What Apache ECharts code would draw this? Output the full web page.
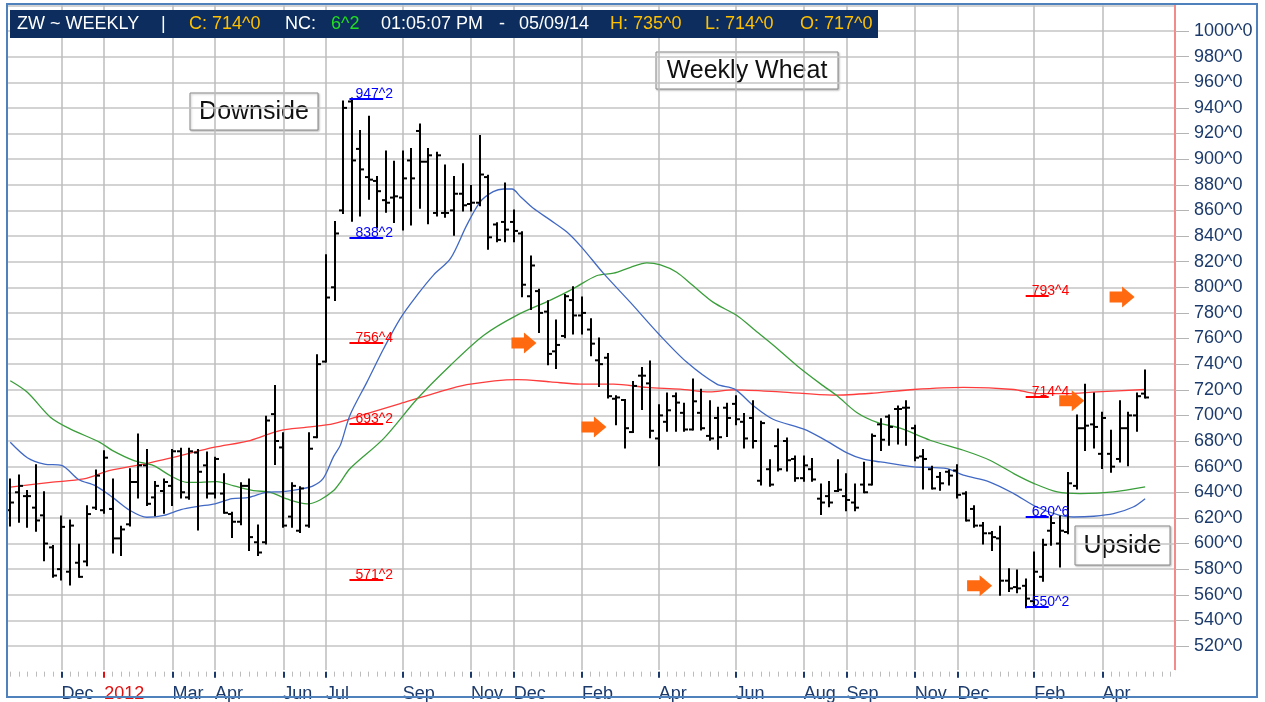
<!DOCTYPE html>
<html>
<head>
<meta charset="utf-8">
<title>ZW Weekly Wheat</title>
<script src="https://cdn.jsdelivr.net/npm/echarts@6/dist/echarts.min.js"></script>
<style>
  html, body { margin: 0; padding: 0; background: #fff; }
  #chart { width: 1265px; height: 702px; }
</style>
</head>
<body>
<div id="chart"></div>
<script>
// weekly bars (friday closes), first bar = week of 2011-10-21
const firstWeek = '2011-10-21'
const emptyWeeksAfter = 3

const opens = [626, 640, 637, 628, 622, 597, 580, 578, 585, 586, 628, 626, 627, 604, 615, 648, 661, 636, 641, 645,
  672, 636, 671, 661, 639, 639, 623, 617, 645, 601, 601, 701, 675, 621, 610, 614, 683, 742, 800, 860,
  945, 908, 886, 883, 868, 870, 870, 899, 922, 898, 858, 858, 860, 873, 865, 866, 886, 849, 851, 851,
  842, 793, 797, 781, 750, 762, 790, 778, 767, 743, 745, 713, 712, 687, 731, 725, 682, 695, 715, 702,
  689, 702, 684, 698, 706, 709, 695, 698, 649, 658, 676, 680, 666, 651, 658, 635, 637, 641, 637, 632,
  646, 646, 693, 699, 705, 706, 690, 668, 658, 652, 656, 657, 639, 627, 614, 608, 604, 571, 566, 567,
  555, 574, 610, 600, 609, 645, 690, 693, 670, 670, 666, 690, 700, 717]
const highs = [650, 653, 641, 661, 640, 598, 621, 618, 599, 629, 657, 672, 650, 613, 658, 685, 673, 648, 650, 673,
  674, 674, 673, 671, 667, 654, 624, 647, 650, 614, 699, 723, 686, 647, 644, 686, 747, 825, 851, 945,
  947.25, 922, 933, 886, 906, 898, 906, 908, 927, 908, 905, 895, 886, 896, 879, 918, 887, 850, 881, 860,
  843, 824, 798, 789, 774, 794, 800, 792, 775, 760, 748, 715, 712, 726, 737, 742, 708, 717, 717, 709,
  728, 720, 711, 706, 709, 715, 701, 711, 695, 665, 689, 682, 668, 668, 666, 646, 648, 665, 654, 646,
  663, 685, 697, 700, 707, 711, 692, 673, 660, 655, 657, 661, 640, 629, 616, 609, 613, 580, 579, 572,
  593, 603, 621, 621, 655, 700, 724, 717, 702, 688, 711, 702, 717, 735]
const lows = [614, 617, 613, 610, 587, 574, 572, 568, 574, 583, 627, 624, 593, 591, 614, 636, 630, 622, 624, 630,
  636, 635, 611, 636, 636, 624, 605, 615, 595, 591, 600, 662, 613, 613, 609, 613, 683, 742, 790, 858,
  852, 856, 869, 847, 859, 851, 845, 849, 862, 850, 856, 855, 841, 860, 860, 864, 830, 836, 836, 836,
  793, 783, 765, 740, 737, 761, 764, 764, 747, 723, 714, 693, 675, 687, 705, 683, 661, 688, 688, 688,
  689, 689, 681, 674, 684, 693, 675, 675, 646, 645, 657, 657, 649, 649, 649, 623, 629, 641, 626, 626,
  640, 646, 673, 677, 678, 677, 665, 643, 643, 642, 646, 636, 618, 613, 600, 595, 560, 563, 562, 550.25,
  550.5, 571, 599, 582, 608, 643, 673, 675, 659, 656, 664, 661, 688, 714]
const closes = [632, 645, 637, 618, 600, 575, 613, 614, 574, 623, 653, 667, 604, 611, 648, 661, 631, 645, 648, 672,
  640, 672, 656, 639, 666, 624, 617, 645, 605, 593, 696, 680, 614, 645, 643, 674, 740, 792, 842, 940,
  899, 892, 884, 875, 866, 871, 885, 885, 898, 903, 903, 858, 873, 864, 866, 888, 839, 837, 845, 844,
  802, 817, 780, 748, 755, 793, 778, 780, 756, 740, 715, 714, 690, 723, 731, 688, 700, 704, 710, 689,
  711, 690, 682, 683, 698, 697, 682, 680, 694, 646, 658, 665, 651, 661, 650, 632, 632, 642, 634, 628,
  640, 684, 681, 691, 705, 706, 667, 666, 643, 647, 653, 638, 618, 614, 608, 605, 571, 565, 565, 557,
  578, 599, 616, 610, 647, 690, 692, 691, 698, 660, 690, 700, 715, 714]

// moving averages at these week positions
const blueMaAt = [0, 2, 4, 6, 8, 10, 12, 14, 16, 18, 20, 22, 24, 26, 28, 30, 32, 34, 35.5, 36.7, 37.9, 38.7, 39.8,
  41.8, 43.75, 45.7, 47.7, 49.6, 51.6, 53.5, 55.1, 56.6, 57.8, 58.8, 59.8, 61.3, 63.3, 65.2, 67, 69.5, 72.7, 76,
  79.3, 82.8, 84.9, 87.1, 89.4, 93, 95.3, 98, 100, 102, 105.9, 109.8, 111.7, 114.8, 117.6, 120.3, 123, 124.6,
  127, 129.3, 131.6, 133]
const blueMa = [679, 667, 662, 661, 650, 645, 636, 626, 620.5, 622, 626.5, 629, 631, 635, 636, 640, 640.5, 642.5, 645, 651,
  668, 677, 700, 726, 752, 775.6, 794, 809.5, 822.5, 848.5, 866.8, 874.6, 876.7, 876.7, 870.7, 861.6, 852.4, 843.3,
  831, 811, 788, 763.5, 741.4, 724.4, 720.5, 707.5, 697, 689.3, 681.5, 671, 665.8, 663.7, 659.8, 658.5, 653.3,
  648, 639, 628.5, 622, 620.7, 621.3, 623.3, 628.5, 635]
const greenMaAt = [0, 2, 4.7, 7, 10.5, 12, 14.5, 16.8, 18.75, 20.7, 22.3, 24.2, 26.2, 28.5, 30.5, 32.4, 34.8, 36.3,
  37.9, 38.7, 39.8, 43.75, 47.7, 51.6, 55.5, 59.4, 63.3, 66, 68.7, 70.7, 72.7, 74.6, 76.2, 78.1, 80, 82.4, 85.2,
  87.1, 89.5, 92.2, 95, 96.9, 99.2, 101.6, 104.3, 107.8, 111.7, 114.8, 117.6, 120, 122.7, 125.4, 129.3, 133]
const greenMa = [727, 718, 698.6, 689.5, 679, 672.5, 664.7, 660.8, 653, 647.8, 647.8, 648.3, 645, 641.3, 640, 634.8,
  630.9, 634, 641.3, 648, 658.4, 681.9, 713, 739.2, 762.6, 778.3, 790, 799, 809, 811, 815.6, 819, 817.4, 811.7,
  801.3, 788.2, 777.8, 767.4, 754.4, 738.8, 724.4, 715.3, 702.3, 694.5, 690, 680.6, 672.8, 665, 654.6, 646.8,
  640.3, 639, 640.3, 644.2]
const redMaAt = [0, 4.7, 8.6, 11.7, 15.6, 19.9, 23.8, 28.1, 31.6, 34.8, 37.9, 41.8, 45.7, 49.6, 53.5, 59.4, 63.3,
  66.8, 70.7, 74.6, 78.5, 82, 84.7, 90.2, 96.4, 101.2, 105.9, 111.7, 117.6, 120.3, 123.8, 127.3, 133]
const redMa = [644, 647.8, 650.4, 657, 662, 668.6, 675, 680.4, 688.2, 690.8, 693.6, 701.4, 709.2, 717, 724, 728, 726.2,
  724.4, 724.4, 721.8, 720.5, 718.4, 720, 718.4, 715.8, 717.4, 720.2, 721.8, 720.2, 717, 717, 718.4, 720.2]

// month ticks on the date axis
const monthWeeks = [6, 11, 19, 24, 32, 37, 46, 54, 59, 67, 76, 85, 93, 98, 106, 111, 120, 128]
const monthNames = ['Dec', '2012', 'Mar', 'Apr', 'Jun', 'Jul', 'Sep', 'Nov', 'Dec', 'Feb', 'Apr', 'Jun', 'Aug', 'Sep',
  'Nov', 'Dec', 'Feb', 'Apr']
const yearWeeks = [11]

// marked price levels
const levelValues = [947.25, 838.25, 756.5, 693.25, 571.25, 793.5, 714.5, 620.75, 550.25]
const levelLabels = ['947^2', '838^2', '756^4', '693^2', '571^2', '793^4', '714^4', '620^6', '550^2']
const levelKinds = ['extreme', 'extreme', 'target', 'target', 'target', 'target', 'target', 'extreme', 'extreme']
const levelFrom = [39.75, 39.75, 39.75, 39.75, 39.75, 119, 119, 119, 119]
const levelTo = [43.7, 43.7, 43.7, 43.7, 43.7, 121.7, 121.7, 121.7, 121.7]

// orange arrows
const arrowWeeks = [60.2, 68.4, 113.6, 124.4, 130.3]
const arrowPrices = [756.5, 691, 567, 711.5, 792.5]

const FONT = '"Liberation Sans", Arial, sans-serif'
const NAVY = '#1b3a6b'

function buildWeeks () {
  const out = []
  const d = new Date(firstWeek + 'T00:00:00Z')
  for (let i = 0; i < opens.length + emptyWeeksAfter; i++) {
    out.push(d.toISOString().slice(0, 10))
    d.setUTCDate(d.getUTCDate() + 7)
  }
  return out
}

const weeks = buildWeeks()
const lastBar = opens.length - 1
const isMonth = (i) => monthWeeks.indexOf(i) >= 0

// open / high / low / close bar
function renderBar (params, api) {
  const k = api.value(0)
  const hi = api.coord([k, api.value(2)])
  const lo = api.coord([k, api.value(3)])
  const o = api.coord([k, api.value(1)])
  const c = api.coord([k, api.value(4)])
  const x = Math.round(hi[0])
  const st = { stroke: '#000', lineWidth: 2 }
  return {
    type: 'group',
    children: [
      { type: 'line', shape: { x1: x, y1: hi[1] - 1, x2: x, y2: lo[1] + 1 }, style: st },
      { type: 'line', shape: { x1: x - 4, y1: o[1], x2: x, y2: o[1] }, style: st },
      { type: 'line', shape: { x1: x, y1: c[1], x2: x + 4, y2: c[1] }, style: st }
    ]
  }
}

function renderLevel (params, api) {
  const i = params.dataIndex
  const a = api.coord([levelFrom[i], levelValues[i]])
  const b = api.coord([levelTo[i], levelValues[i]])
  const color = levelKinds[i] === 'extreme' ? '#0000ff' : '#ff0000'
  const y = Math.round(a[1])
  return {
    type: 'group',
    children: [
      { type: 'line', shape: { x1: a[0], y1: y, x2: b[0], y2: y }, style: { stroke: color, lineWidth: 2 } },
      {
        type: 'text',
        style: {
          text: levelLabels[i], x: a[0] + 6, y: y + 2, fill: color,
          font: '14px ' + FONT, align: 'left', verticalAlign: 'bottom'
        }
      }
    ]
  }
}

function renderArrow (params, api) {
  const p = api.coord([api.value(0), api.value(1)])
  const x = p[0]
  const y = p[1]
  return {
    type: 'polygon',
    shape: {
      points: [[x - 12.5, y - 5.5], [x, y - 5.5], [x, y - 10.5], [x + 12.5, y], [x, y + 10.5], [x, y + 5.5], [x - 12.5, y + 5.5]]
    },
    style: { fill: '#ff6a10' }
  }
}

function pairs (at, vals) {
  return at.map((k, i) => [k, vals[i]])
}

function maSeries (name, at, vals, color) {
  return {
    name: name,
    type: 'line',
    xAxisIndex: 3,
    data: pairs(at, vals),
    showSymbol: false,
    smooth: 0.3,
    silent: true,
    z: 2,
    lineStyle: { color: color, width: 1.3 }
  }
}

// header strip texts
const headerParts = [
  ['ZW ~ WEEKLY', 17, '#ffffff'],
  ['|', 161, '#ffffff'],
  ['C: ' + closes[lastBar] + '^0', 189, '#ffc000'],
  ['NC:', 285, '#ffffff'],
  ['6^2', 331, '#22dd22'],
  ['01:05:07 PM', 381, '#ffffff'],
  ['-', 499, '#ffffff'],
  ['05/09/14', 519, '#ffffff'],
  ['H: ' + highs[lastBar] + '^0', 610, '#ffc000'],
  ['L: ' + lows[lastBar] + '^0', 705, '#ffc000'],
  ['O: ' + opens[lastBar] + '^0', 800, '#ffc000']
]

function textBox (label, x, y, w, h) {
  return {
    type: 'group',
    z: 60,
    children: [
      {
        type: 'rect',
        shape: { x: x, y: y, width: w, height: h },
        style: {
          fill: '#fff', stroke: '#8a8a8a', lineWidth: 1,
          shadowBlur: 2, shadowColor: 'rgba(0,0,0,0.25)', shadowOffsetX: 1, shadowOffsetY: 1
        }
      },
      {
        type: 'text',
        style: {
          text: label, x: x + w / 2, y: y + h / 2 + 1, fill: '#111',
          font: '25px ' + FONT, align: 'center', verticalAlign: 'middle'
        }
      }
    ]
  }
}

const graphics = [
  {
    type: 'rect', z: 60, silent: true,
    shape: { x: 7, y: 4, width: 1250, height: 693 },
    style: { fill: 'none', stroke: '#4f81bd', lineWidth: 2 }
  },
  {
    type: 'rect', z: 60, silent: true,
    shape: { x: 10, y: 10, width: 868, height: 28 },
    style: { fill: '#0c2d5e' }
  },
  textBox('Weekly Wheat', 656, 52, 182, 37),
  textBox('Downside', 190, 93, 128, 37),
  textBox('Upside', 1075, 526, 95, 39)
]
headerParts.forEach(function (p) {
  graphics.push({
    type: 'text', z: 61, silent: true,
    style: { text: p[0], x: p[1], y: 24.5, fill: p[2], font: '18px ' + FONT, verticalAlign: 'middle' }
  })
})

const chart = echarts.init(document.getElementById('chart'))
const option = {
  animation: false,
  backgroundColor: '#fff',
  grid: { left: 6, top: 5.4, width: 1169, height: 666.25, containLabel: false, outerBoundsMode: 'none' },
  xAxis: [
    {
      // weekly ticks + month grid lines
      type: 'category',
      data: weeks,
      boundaryGap: true,
      z: 1,
      axisLine: { show: true, onZero: false, lineStyle: { color: '#ffffff', width: 3 } },
      axisTick: { show: true, alignWithLabel: true, interval: 0, length: 5, lineStyle: { color: '#bcbcbc', width: 1 } },
      axisLabel: { show: false },
      splitLine: {
        show: true,
        alignWithLabel: true,
        interval: (i) => isMonth(i),
        lineStyle: { color: '#bdbdbd', width: 1.5 }
      }
    },
    {
      // month ticks and labels
      type: 'category',
      data: weeks,
      boundaryGap: true,
      position: 'bottom',
      z: 2,
      axisLine: { show: false, onZero: false },
      axisTick: {
        show: true, alignWithLabel: true, length: 6,
        interval: (i) => isMonth(i) && yearWeeks.indexOf(i) < 0,
        lineStyle: { color: NAVY, width: 2 }
      },
      axisLabel: {
        show: true,
        interval: (i) => isMonth(i),
        align: 'left',
        margin: 13,
        color: NAVY,
        fontSize: 18,
        fontFamily: FONT,
        formatter: function (value, index) {
          const name = monthNames[monthWeeks.indexOf(index)]
          return yearWeeks.indexOf(index) >= 0 ? '{yr|' + name + '}' : name
        },
        rich: { yr: { color: '#e01010', fontSize: 18, fontFamily: FONT } }
      },
      splitLine: { show: false }
    },
    {
      // red tick at the year change
      type: 'category',
      data: weeks,
      boundaryGap: true,
      position: 'bottom',
      z: 3,
      axisLine: { show: false, onZero: false },
      axisTick: {
        show: true, alignWithLabel: true, length: 6,
        interval: (i) => yearWeeks.indexOf(i) >= 0,
        lineStyle: { color: '#e01010', width: 2 }
      },
      axisLabel: { show: false },
      splitLine: { show: false }
    },
    {
      // hidden numeric week axis for overlays
      type: 'value',
      show: false,
      min: -0.5,
      max: weeks.length - 0.5,
      axisLine: { onZero: false }
    }
  ],
  yAxis: {
    type: 'value',
    position: 'right',
    min: 500,
    max: 1020,
    interval: 20,
    axisLine: { show: true, onZero: false, lineStyle: { color: '#f28b8b', width: 2 } },
    axisTick: { show: true, length: 14, lineStyle: { color: '#b4b4b4', width: 1 } },
    axisLabel: {
      margin: 19,
      color: NAVY,
      fontSize: 18,
      fontFamily: FONT,
      showMinLabel: false,
      showMaxLabel: false,
      formatter: (v) => v + '^0'
    },
    splitLine: { show: true, lineStyle: { color: '#c4c4c4', width: 1.5 } }
  },
  series: [
    maSeries('MA slow', redMaAt, redMa, '#ff3c3c'),
    maSeries('MA mid', greenMaAt, greenMa, '#3a9e3a'),
    maSeries('MA fast', blueMaAt, blueMa, '#4169c4'),
    {
      name: 'ZW weekly',
      type: 'custom',
      xAxisIndex: 0,
      renderItem: renderBar,
      encode: { x: 0, y: [1, 2, 3, 4] },
      data: opens.map((o, i) => [i, o, highs[i], lows[i], closes[i]]),
      silent: true,
      z: 4
    },
    {
      name: 'levels',
      type: 'custom',
      xAxisIndex: 3,
      renderItem: renderLevel,
      encode: { x: 0, y: 1 },
      data: levelValues.map((v, i) => [levelFrom[i], v]),
      silent: true,
      z: 5
    },
    {
      name: 'arrows',
      type: 'custom',
      xAxisIndex: 3,
      renderItem: renderArrow,
      encode: { x: 0, y: 1 },
      data: arrowWeeks.map((k, i) => [k, arrowPrices[i]]),
      silent: true,
      z: 6
    }
  ],
  graphic: graphics
}
chart.setOption(option)
</script>
</body>
</html>
